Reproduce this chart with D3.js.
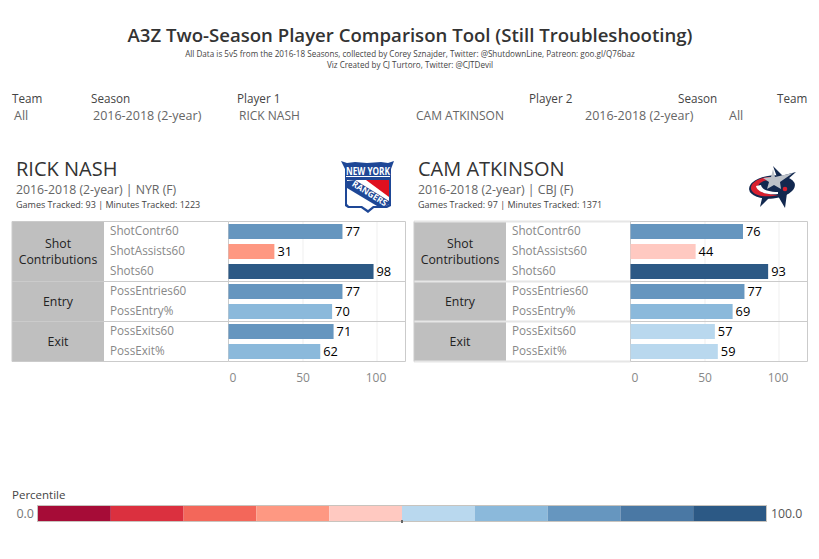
<!DOCTYPE html>
<html><head><meta charset="utf-8">
<script src="https://cdn.jsdelivr.net/npm/d3@7"></script>
<style>html,body{margin:0;padding:0;background:#fff}svg{display:block}text{font-family:"Open Sans",sans-serif}</style>
</head><body><svg id="c" width="819" height="559"></svg>
<script>
const metrics = ["ShotContr60","ShotAssists60","Shots60","PossEntries60","PossEntry%","PossExits60","PossExit%"];
const groups = [["Shot","Contributions"],["Entry"],["Exit"]];
const groupSizes = [3,2,2];
const nashValues = [77,31,98,77,70,71,62];
const atkinsonValues = [76,44,93,77,69,57,59];
const legendColors = ["#a60c37","#db303f","#f3675a","#fe9882","#ffc9c1","#b9d8ee","#8bb9db","#6696bf","#4a78a4","#2c5985"];
const ticks = [0,50,100];

const svg = d3.select("#c");
const txt = (g,x,y,s,size,fill,anchor,weight)=>g.append("text").attr("x",x).attr("y",y).text(s)
  .attr("font-size",size).attr("fill",fill).attr("text-anchor",anchor||"start").attr("font-weight",weight||400);

txt(svg,410,42,"A3Z Two-Season Player Comparison Tool (Still Troubleshooting)",18.6,"#333","middle",600);
txt(svg,410,56.5,"All Data is 5v5 from the 2016-18 Seasons, collected by Corey Sznajder, Twitter: @ShutdownLine, Patreon: goo.gl/Q76baz",8.1,"#444","middle");
txt(svg,410,67.5,"Viz Created by CJ Turtoro, Twitter: @CJTDevil",8.1,"#444","middle");

[[12,"Team"],[91,"Season"],[237,"Player 1"],[529,"Player 2"],[678,"Season"],[777,"Team"]]
  .forEach(d=>txt(svg,d[0],103,d[1],11.7,"#444"));
[[14,"All",12.5],[93,"2016-2018 (2-year)",12.5],[239,"RICK NASH",12],[416,"CAM ATKINSON",12],[585,"2016-2018 (2-year)",12.5],[729,"All",12.5]]
  .forEach(d=>txt(svg,d[0],120,d[1],d[2],"#666"));

const colorScale = d3.scaleThreshold().domain(d3.range(1,10).map(i=>i*10+.5)).range(legendColors);

function panel(o){
  const g = svg.append("g");
  txt(g,o.left+4,176,o.name,20,"#333");
  txt(g,o.left+4,194,o.sub,12.3,"#666");
  txt(g,o.left+4,208,o.games,9,"#444");
  const x = d3.scaleLinear().domain([0,100]).range([o.x0,o.x0+148]);
  const y = d3.scaleBand().domain(metrics).range([221.5,361.5]).paddingInner(.25).paddingOuter(.125);
  const step = y.step(), top = 221.5;
  g.append("rect").attr("x",o.left).attr("y",top).attr("width",92).attr("height",140).attr("fill","#bfbfbf");
  g.selectAll(".gr").data(ticks.slice(1)).join("line").attr("x1",d=>x(d)+.5).attr("x2",d=>x(d)+.5)
    .attr("y1",top).attr("y2",top+140).attr("stroke","#efefef");
  const b = o.light ? "#e6e6e6" : "#cbcbcb", bw = o.light?2:1;
  let acc=0; const seps=[0];
  groupSizes.forEach(n=>{acc+=n;seps.push(acc)});
  seps.forEach(n=>{
    const yy=top+n*step;
    g.append("line").attr("x1",o.left).attr("x2",o.x0).attr("y1",yy).attr("y2",yy).attr("stroke",b).attr("stroke-width",bw);
    g.append("line").attr("x1",o.x0).attr("x2",o.right).attr("y1",yy).attr("y2",yy).attr("stroke","#cbcbcb");
  });
  [o.left,o.x0,o.right].forEach(xx=>g.append("line").attr("x1",xx).attr("x2",xx).attr("y1",top).attr("y2",top+140).attr("stroke","#cbcbcb"));
  acc=0;
  groups.forEach((lines,i)=>{
    const cy=top+(acc+groupSizes[i]/2)*step; acc+=groupSizes[i];
    lines.forEach((s,j)=>txt(g,o.left+46,cy+4+(j-(lines.length-1)/2)*16,s,12.3,"#222","middle"));
  });
  metrics.forEach((m,i)=>{
    const v=o.values[i], yy=y(m);
    txt(g,o.left+98,yy+y.bandwidth()/2+3.5,m,11.7,"#888");
    g.append("rect").attr("x",x(0)).attr("y",yy).attr("width",x(v)-x(0)).attr("height",y.bandwidth()).attr("fill",colorScale(v));
    txt(g,x(v)+3,yy+y.bandwidth()/2+4.5,d3.format("d")(v),12.8,"#000");
  });
  const ax = g.append("g").attr("transform","translate(0,372)").call(d3.axisBottom(x).tickValues(ticks).tickSize(0).tickPadding(0));
  ax.select(".domain").remove();
  ax.selectAll("text").attr("font-size",12).attr("fill","#888").attr("font-family",'"Open Sans",sans-serif')
    .attr("dy","0.8em").attr("dx",d=>d===0?4:d===100?-1:0);
  return g;
}
panel({left:12,right:405.5,x0:228.5,name:"RICK NASH",sub:"2016-2018 (2-year) | NYR (F)",games:"Games Tracked: 93  | Minutes Tracked: 1223",values:nashValues});
panel({left:414,right:807.5,x0:630.5,name:"CAM ATKINSON",sub:"2016-2018 (2-year) | CBJ (F)",games:"Games Tracked: 97  | Minutes Tracked: 1371",values:atkinsonValues,light:true});

// Rangers logo
(function(){
  const g=svg.append("g").attr("transform","translate(341,161)");
  const f="'Liberation Sans Narrow','Liberation Sans'";
  g.append("path").attr("d","M0 0 L6 2 L14 1 L26 2 L40 1 L47 2 L53 0 L50 8 L50 45 L46 47 L33 47 L27 52 L20 47 L7 47 L4 45 L4 8 Z").attr("fill","#1e4796");
  g.append("rect").attr("x",5).attr("y",15).attr("width",44).attr("height",1).attr("fill","#fff");
  g.append("path").attr("d","M6 19 L48 19 L48 43 L45 45 L32 45 L27 49 L21 45 L8 45 L6 43 Z").attr("fill","#fff");
  g.append("path").attr("d","M25 19 L48 19 L48 36 Z").attr("fill","#e0101f");
  g.append("path").attr("d","M6 20 L14 19 L48 40 L48 43 L45 45 L36 45 L6 27 Z").attr("fill","#1e4796");
  g.append("text").attr("x",5).attr("y",13.5).attr("font-size",11).attr("font-weight",700).attr("fill","#fff").attr("font-family",f).attr("textLength",44).attr("lengthAdjust","spacingAndGlyphs").text("NEW YORK");
  g.append("text").attr("transform","translate(27,35) rotate(32)").attr("text-anchor","middle").attr("font-size",8.5).attr("font-weight",700).attr("fill","#fff").attr("font-family",f).text("RANGERS");
})();
// Blue Jackets logo
(function(){
  const g=svg.append("g").attr("transform","translate(749,165)");
  g.append("path").attr("d","M11 42 L14 29 L22 31 Z M36 43 L29 31 L38 28 Z M24 1 L28 12 L47 7 L38 15 Z").attr("fill","#12284f");
  g.append("ellipse").attr("cx",23).attr("cy",22).attr("rx",23).attr("ry",11.5).attr("transform","rotate(-6 23 22)").attr("fill","#12284f");
  g.append("path").attr("d","M22 12 C10 12 1 18 2 24 C4 31 16 33 30 30 C22 30 10 28 9 23 C8 19 14 15 21 15 Z").attr("fill","#d8202f");
  g.append("path").attr("d","M7 21 C8 27 18 30 29 29 L29 27 C20 27 13 25 12 20 Z").attr("fill","#fff");
  g.append("path").attr("d","M24 4 L26 12 L44 8 L31 17 L32 24 L25 20 L18 24 L20 17 L14 13 L22 12 Z").attr("fill","#bcc1c8");
  g.append("circle").attr("cx",36).attr("cy",24).attr("r",2.3).attr("fill","#d8202f");
})();

// legend
txt(svg,12,499,"Percentile",11.5,"#444");
const lx=d3.scaleLinear().domain([0,10]).range([38,766]);
svg.selectAll(".lg").data(legendColors).join("rect").attr("x",(d,i)=>lx(i)).attr("y",505.5).attr("width",(d,i)=>lx(i+1)-lx(i)).attr("height",16).attr("fill",d=>d);
svg.append("rect").attr("x",37.5).attr("y",505.5).attr("width",729).attr("height",16).attr("fill","none").attr("stroke","#c8c4be");
svg.append("rect").attr("x",401).attr("y",520).attr("width",2).attr("height",3).attr("fill","#666");
txt(svg,34,518,"0.0",12.5,"#777","end");
txt(svg,771,518,"100.0",12.3,"#555");
</script></body></html>
